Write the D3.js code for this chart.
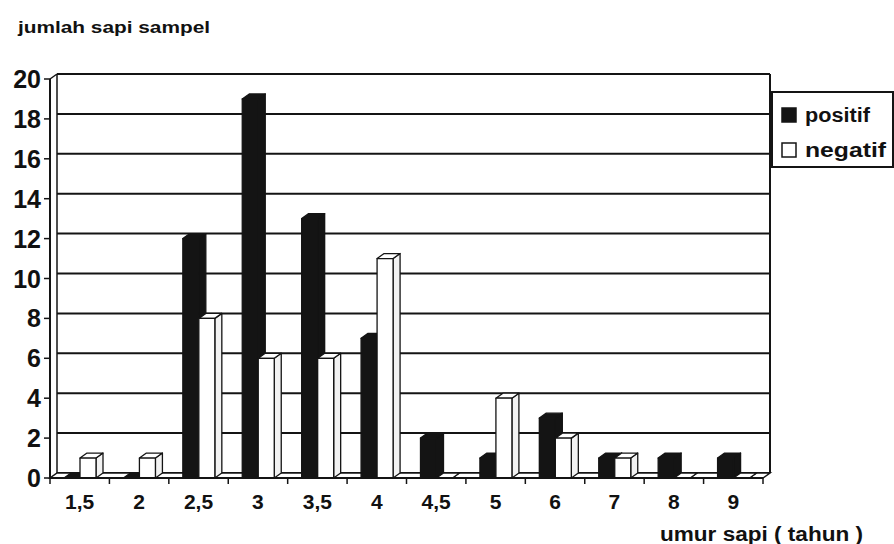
<!DOCTYPE html>
<html><head><meta charset="utf-8">
<script src="https://cdn.jsdelivr.net/npm/d3@7"></script>
<style>body{margin:0;background:#fff}svg{display:block}text{font-family:"Liberation Sans",Arial,sans-serif;fill:#111}</style>
</head><body><svg id="c" width="894" height="544"></svg>
<script>
const categories = ["1,5","2","2,5","3","3,5","4","4,5","5","6","7","8","9"];
const positif = [0,0,12,19,13,7,2,1,3,1,1,1];
const negatif = [1,1,8,6,6,11,0,4,2,1,0,0];
const yTicks = [0,2,4,6,8,10,12,14,16,18,20];
const seriesNames = ["positif","negatif"];

const svg = d3.select("#c");
const dx = 7, dy = -5;
const x = d3.scaleBand().domain(categories).range([50, 763]).padding(0);
const sub = d3.scaleBand().domain(seriesNames).range([14, 46]).padding(0);
const y = d3.scaleLinear().domain([0, 20]).range([478, 79]);
const ink = "#141414";
const y0 = y(0), xL = x.range()[0], xR = x.range()[1];

// back wall gridlines
svg.append("g").selectAll("line").data(yTicks).join("line")
  .attr("x1", xL + dx).attr("x2", xR + dx)
  .attr("y1", d => y(d) + dy).attr("y2", d => y(d) + dy)
  .attr("stroke", ink).attr("stroke-width", 2);
svg.append("line").attr("x1", xR+dx).attr("x2", xR+dx).attr("y1", y(20)+dy).attr("y2", y0+dy).attr("stroke", ink).attr("stroke-width", 2);
svg.append("line").attr("x1", xL+dx).attr("x2", xL+dx).attr("y1", y(20)+dy).attr("y2", y0+dy).attr("stroke", ink).attr("stroke-width", 1.5);
svg.append("line").attr("x1", xL).attr("x2", xL+dx).attr("y1", y(20)).attr("y2", y(20)+dy).attr("stroke", ink).attr("stroke-width", 1.5);
svg.append("path").attr("d", `M${xL},${y0}L${xR},${y0}L${xR+dx},${y0+dy}L${xL+dx},${y0+dy}Z`)
  .attr("fill", "#fff").attr("stroke", ink).attr("stroke-width", 1.5);

// bars
const data = categories.map((c, i) => ({c, vals: [{s:"positif", v: positif[i]}, {s:"negatif", v: negatif[i]}]}));
const gB = svg.append("g");
data.forEach(d => {
  d.vals.forEach(b => {
    const bx = x(d.c) + sub(b.s), w = sub.bandwidth(), yt = y(b.v);
    const dark = b.s === "positif";
    const fill = dark ? ink : "#fff";
    const g = gB.append("g").attr("stroke", ink).attr("stroke-width", 1.3).attr("stroke-linejoin", "round");
    g.append("path").attr("d", `M${bx+w},${yt}L${bx+w+dx},${yt+dy}L${bx+w+dx},${y0+dy}L${bx+w},${y0}Z`).attr("fill", dark ? ink : "#f2f2f2");
    g.append("path").attr("d", `M${bx},${yt}L${bx+dx},${yt+dy}L${bx+w+dx},${yt+dy}L${bx+w},${yt}Z`).attr("fill", fill);
    g.append("rect").attr("x", bx).attr("y", yt).attr("width", w).attr("height", y0 - yt).attr("fill", fill);
  });
});

// left axis
svg.append("line").attr("x1", xL).attr("x2", xL).attr("y1", y(20)).attr("y2", y0).attr("stroke", ink).attr("stroke-width", 2);
svg.append("g").selectAll("line").data(yTicks).join("line")
  .attr("x1", xL - 6).attr("x2", xL).attr("y1", d => y(d)).attr("y2", d => y(d)).attr("stroke", ink).attr("stroke-width", 1.5);
svg.append("g").selectAll("text").data(yTicks).join("text")
  .attr("x", 41).attr("y", d => y(d) + 9).attr("text-anchor", "end")
  .attr("font-size", 25).attr("font-weight", "bold").text(d => d);
// bottom axis
svg.append("line").attr("x1", xL).attr("x2", xR).attr("y1", y0).attr("y2", y0).attr("stroke", ink).attr("stroke-width", 2);
const bounds = categories.map(c => x(c)).concat([xR]);
svg.append("g").selectAll("line").data(bounds).join("line")
  .attr("x1", d => d).attr("x2", d => d).attr("y1", y0).attr("y2", y0 + 6).attr("stroke", ink).attr("stroke-width", 1.5);
svg.append("g").selectAll("text").data(categories).join("text")
  .attr("x", d => x(d) + x.bandwidth()/2).attr("y", 509).attr("text-anchor", "middle")
  .attr("font-size", 21).attr("font-weight", "bold").text(d => d);

// titles
svg.append("text").attr("x", 18).attr("y", 33).attr("font-size", 17).attr("font-weight", "bold")
  .attr("textLength", 192).attr("lengthAdjust", "spacingAndGlyphs").text("jumlah sapi sampel");
svg.append("text").attr("x", 660).attr("y", 541).attr("font-size", 20).attr("font-weight", "bold")
  .attr("textLength", 203).attr("lengthAdjust", "spacingAndGlyphs").text("umur sapi ( tahun )");

// legend
const lg = svg.append("g");
lg.append("rect").attr("x", 772).attr("y", 92).attr("width", 121).attr("height", 75).attr("fill", "#fff").attr("stroke", ink).attr("stroke-width", 2);
const legLen = [65, 81];
seriesNames.forEach((s, i) => {
  const ly = 108 + i * 35;
  lg.append("rect").attr("x", 782).attr("y", ly).attr("width", 14).attr("height", 14)
    .attr("fill", s === "positif" ? ink : "#fff").attr("stroke", ink).attr("stroke-width", 1.5);
  lg.append("text").attr("x", 805).attr("y", ly + 14).attr("font-size", 20).attr("font-weight", "bold")
    .attr("textLength", legLen[i]).attr("lengthAdjust", "spacingAndGlyphs").text(s);
});
</script></body></html>
